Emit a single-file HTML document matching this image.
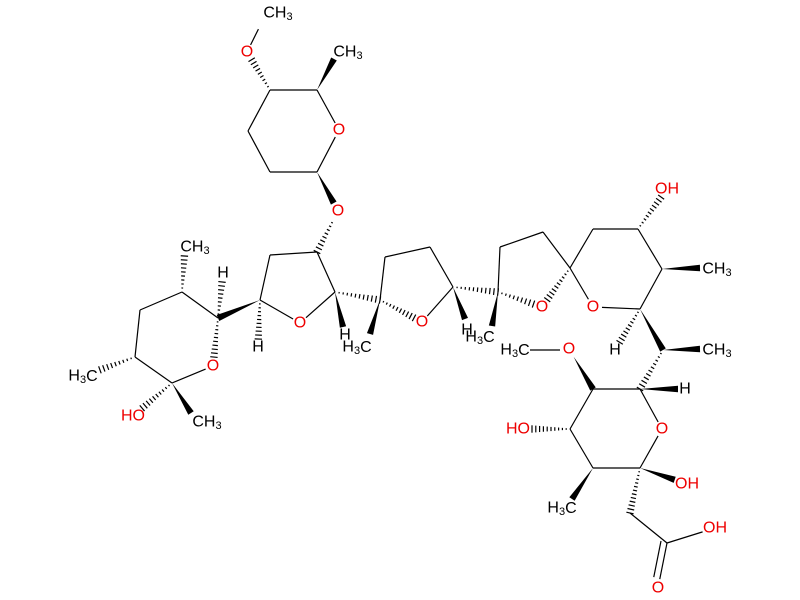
<!DOCTYPE html>
<html><head><meta charset="utf-8"><style>
html,body{margin:0;padding:0;background:#fff;}
svg{display:block;}
text{font-family:"Liberation Sans",Arial,sans-serif;font-size:16px;}
</style></head><body>
<svg id="s" width="800" height="600" viewBox="0 0 800 600" xmlns="http://www.w3.org/2000/svg">
<g id="b" stroke="#000" stroke-width="1.2" fill="#000"></g>
<g id="t" text-anchor="middle" dominant-baseline="central">
<text x="278" y="13">CH<tspan font-size="11" dy="4">3</tspan></text>
<text x="247" y="52" fill="#e00">O</text>
<text x="348" y="52">CH<tspan font-size="11" dy="4">3</tspan></text>
<text x="339" y="130" fill="#e00">O</text>
<text x="338" y="211" fill="#e00">O</text>
<text x="300" y="323" fill="#e00">O</text>
<text x="258" y="347">H</text>
<text x="223" y="273">H</text>
<text x="195" y="247">CH<tspan font-size="11" dy="4">3</tspan></text>
<text x="213" y="366" fill="#e00">O</text>
<text x="83" y="376">H<tspan font-size="11" dy="4">3</tspan><tspan dy="-4">C</tspan></text>
<text x="133" y="416" fill="#e00">HO</text>
<text x="207" y="422">CH<tspan font-size="11" dy="4">3</tspan></text>
<text x="345" y="335">H</text>
<text x="357" y="347">H<tspan font-size="11" dy="4">3</tspan><tspan dy="-4">C</tspan></text>
<text x="422" y="322" fill="#e00">O</text>
<text x="467" y="330">H</text>
<text x="480" y="337">H<tspan font-size="11" dy="4">3</tspan><tspan dy="-4">C</tspan></text>
<text x="542" y="307" fill="#e00">O</text>
<text x="593" y="307" fill="#e00">O</text>
<text x="667" y="189" fill="#e00">OH</text>
<text x="717" y="269">CH<tspan font-size="11" dy="4">3</tspan></text>
<text x="615" y="350">H</text>
<text x="717" y="350">CH<tspan font-size="11" dy="4">3</tspan></text>
<text x="515" y="350">H<tspan font-size="11" dy="4">3</tspan><tspan dy="-4">C</tspan></text>
<text x="569" y="349" fill="#e00">O</text>
<text x="685" y="389">H</text>
<text x="662" y="429" fill="#e00">O</text>
<text x="518" y="429" fill="#e00">HO</text>
<text x="687" y="484" fill="#e00">OH</text>
<text x="562" y="508">H<tspan font-size="11" dy="4">3</tspan><tspan dy="-4">C</tspan></text>
<text x="715" y="528" fill="#e00">OH</text>
<text x="658" y="588" fill="#e00">O</text>
</g>
</svg>
<script>
var g=document.getElementById('b'),NS='http://www.w3.org/2000/svg';
function sh(x1,y1,x2,y2,s1,s2){var dx=x2-x1,dy=y2-y1,l=Math.hypot(dx,dy);return [x1+dx*s1/l,y1+dy*s1/l,x2-dx*s2/l,y2-dy*s2/l];}
function L(x1,y1,x2,y2,s1,s2){var p=sh(x1,y1,x2,y2,s1||0,s2||0);var e=document.createElementNS(NS,'line');e.setAttribute('x1',p[0]);e.setAttribute('y1',p[1]);e.setAttribute('x2',p[2]);e.setAttribute('y2',p[3]);g.appendChild(e);}
function W(x1,y1,x2,y2,s1,s2){var p=sh(x1,y1,x2,y2,s1||0,s2||0);var dx=p[2]-p[0],dy=p[3]-p[1],l=Math.hypot(dx,dy),nx=-dy/l*3.2,ny=dx/l*3.2;var e=document.createElementNS(NS,'polygon');e.setAttribute('points',p[0]+','+p[1]+' '+(p[2]+nx)+','+(p[3]+ny)+' '+(p[2]-nx)+','+(p[3]-ny));e.setAttribute('stroke','none');g.appendChild(e);}
function H(x1,y1,x2,y2,s1,s2){var p=sh(x1,y1,x2,y2,s1||0,s2||0);var dx=p[2]-p[0],dy=p[3]-p[1],l=Math.hypot(dx,dy),n=Math.max(4,Math.round(l/4));for(var i=1;i<=n;i++){var f=i/n,cx=p[0]+dx*f,cy=p[1]+dy*f,w=0.5+3.2*f,nx=-dy/l*w,ny=dx/l*w;L(cx+nx,cy+ny,cx-nx,cy-ny);}}
// top sugar
L(247,52,262,22,8,8);H(270,90,247,52,0,9);
L(270,90,317,90);L(317,90,339,130,0,8);L(339,130,317,172,8,0);L(317,172,270,172);L(270,172,248,131);L(248,131,270,90);
W(317,90,334,59);W(317,172,338,211,0,9);H(338,211,317,252,9,0);
// THF A
L(260,300,270,255);L(270,255,317,252);L(317,252,335,292);L(335,292,300,323,0,8);L(300,323,260,300,8,0);
H(260,300,258,347,0,8);W(260,300,218,318);H(218,318,223,273,0,9);
// pyran
L(218,318,182,292);L(182,292,140,310);L(140,310,135,357);L(135,357,172,383);L(172,383,213,366,0,8);H(218,318,213,366,0,9);
H(182,292,185,247,0,9);H(135,357,83,376,0,18);H(172,383,133,416,0,12);W(172,383,191,413);
W(335,292,343,327);H(335,292,380,300);
// THF B
L(380,300,385,257);L(385,257,430,247);L(430,247,453,287);L(453,287,422,322,0,8);H(380,300,422,322,0,9);
W(380,300,370,334);W(453,287,465,319);H(453,287,498,292);
// THF C
L(498,292,500,247);L(500,247,543,232);L(543,232,570,268);H(570,268,542,307,0,9);H(498,292,542,307,0,9);W(498,292,492,326);
// ring D
L(570,268,593,229);L(593,229,638,229);L(638,229,662,269);L(662,269,640,309);L(640,309,593,307,0,9);L(593,307,570,268,9,0);
H(638,229,667,189,0,10);W(662,269,700,268);H(640,309,615,350,0,9);W(640,309,663,350);W(663,350,700,349);H(663,350,640,389);
// ring E
L(530,350,560,350);W(569,349,593,389,9,0);
L(593,389,640,389);L(640,389,662,429,0,8);L(662,429,640,468,8,0);L(640,468,593,468);L(593,468,570,429);L(570,429,593,389);
W(640,389,678,389);H(570,429,518,429,0,14);W(640,468,687,484,0,13);W(593,468,572,499);
H(640,468,630,513);L(630,513,667,543);L(667,543,715,528,0,13);
L(667,543,658,588,0,9);L(661,541,652,586,0,9);
</script>
</body></html>
